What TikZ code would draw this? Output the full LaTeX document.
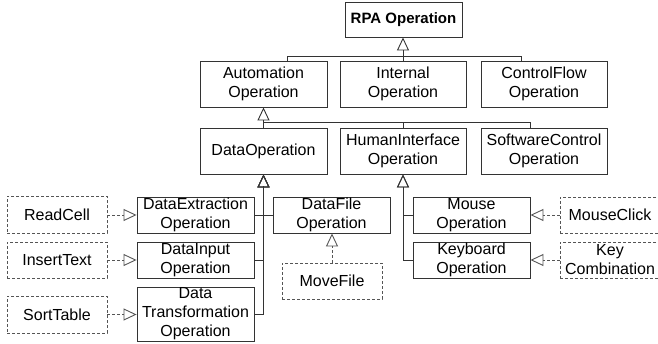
\documentclass[tikz,border=0pt]{standalone}
\usepackage{fontspec}
\setmainfont{Liberation Sans}
\usetikzlibrary{arrows.meta}
\definecolor{boxc}{HTML}{333333}
\definecolor{linec}{HTML}{333333}
\definecolor{dashc}{HTML}{555555}
\tikzset{
  box/.style={draw=boxc, line width=0.9pt, fill=white, inner sep=0pt, align=center,
    font=\fontsize{16}{19}\selectfont, text=black},
  dbox/.style={box, draw=dashc, dash pattern=on 3pt off 2pt},
  conn/.style={draw=linec, line width=0.9pt},
  inh/.style={conn, -{Triangle[open,length=13pt,width=12pt,line width=0.9pt]}},
  real/.style={inh, dash pattern=on 3pt off 2pt, draw=dashc}
}
\begin{document}
\begin{tikzpicture}[x=1pt,y=-1pt]
\useasboundingbox (0,0) rectangle (658,344);
% level 0
\node[box, minimum width=117pt, minimum height=35pt, font=\fontsize{15}{18}\selectfont\bfseries] (rpa) at (403.5,19.5) {RPA Operation};
% level 1
\node[box, minimum width=127pt, minimum height=46pt] (auto) at (263.5,84) {Automation\\Operation};
\node[box, minimum width=126pt, minimum height=46pt] (internal) at (403,84) {Internal\\Operation};
\node[box, minimum width=126pt, minimum height=46pt] (cf) at (544,84) {ControlFlow\\Operation};
% level 2
\node[box, minimum width=127pt, minimum height=46pt] (dataop) at (263.5,151) {DataOperation};
\node[box, minimum width=126pt, minimum height=46pt] (hi) at (403,151) {HumanInterface\\Operation};
\node[box, minimum width=126pt, minimum height=46pt] (sc) at (544,151) {SoftwareControl\\Operation};
% level 3
\node[box, minimum width=117pt, minimum height=36pt] (de) at (195.5,215) {DataExtraction\\Operation};
\node[box, minimum width=117pt, minimum height=36pt] (di) at (195.5,260) {DataInput\\Operation};
\node[box, minimum width=117pt, minimum height=54pt] (dt) at (195.5,314) {Data\\Transformation\\Operation};
\node[box, minimum width=117pt, minimum height=36pt] (df) at (331.5,215) {DataFile\\Operation};
\node[box, minimum width=117pt, minimum height=36pt] (mouse) at (471.5,215) {Mouse\\Operation};
\node[box, minimum width=117pt, minimum height=36pt] (kb) at (471.5,260) {Keyboard\\Operation};
% instances
\node[dbox, minimum width=100pt, minimum height=37pt] (rc) at (57,215) {ReadCell};
\node[dbox, minimum width=100pt, minimum height=36pt] (it) at (57,260) {InsertText};
\node[dbox, minimum width=100pt, minimum height=37pt] (st) at (57,314.5) {SortTable};
\node[dbox, minimum width=100pt, minimum height=36pt] (mf) at (332,281) {MoveFile};
\node[dbox, minimum width=100pt, minimum height=36pt] (mc) at (610,215) {MouseClick};
\node[dbox, minimum width=100pt, minimum height=36pt] (kc) at (610,260) {Key\\Combination};
% inheritance level 1
\draw[inh] (internal.north) -- (internal.north |- rpa.south);
\draw[conn] ([xshift=24pt]auto.north) |- ([yshift=4pt]internal.north);
\draw[conn] ([xshift=-23pt]cf.north) |- ([yshift=4pt]internal.north);
% inheritance level 2
\draw[inh] (dataop.north) -- (auto.south);
\draw[conn] (hi.north) |- ([yshift=5pt]dataop.north);
\draw[conn] ([xshift=-14pt]sc.north) |- ([yshift=5pt]dataop.north);
% inheritance level 3 (shared trunk drawn darker, as overlapping lines)
\draw[conn, line width=1.6pt] (di.east -| dataop.south) -- ([yshift=-12pt]dataop.south);
\draw[inh] (de.east) -| (dataop.south);
\draw[inh] (df.west) -| (dataop.south);
\draw[inh] (di.east) -| (dataop.south);
\draw[inh] (dt.east) -| (dataop.south);
\draw[inh] (mouse.west) -| (hi.south);
\draw[inh] (kb.west) -| (hi.south);
% realizations
\draw[real] (rc.east) -- (de.west);
\draw[real] (it.east) -- (di.west);
\draw[real] (st.east) -- (st.east -| dt.west);
\draw[real] (mf.north) -- (mf.north |- df.south);
\draw[real] (mc.west) -- (mouse.east);
\draw[real] (kc.west) -- (kb.east);
\end{tikzpicture}
\end{document}
